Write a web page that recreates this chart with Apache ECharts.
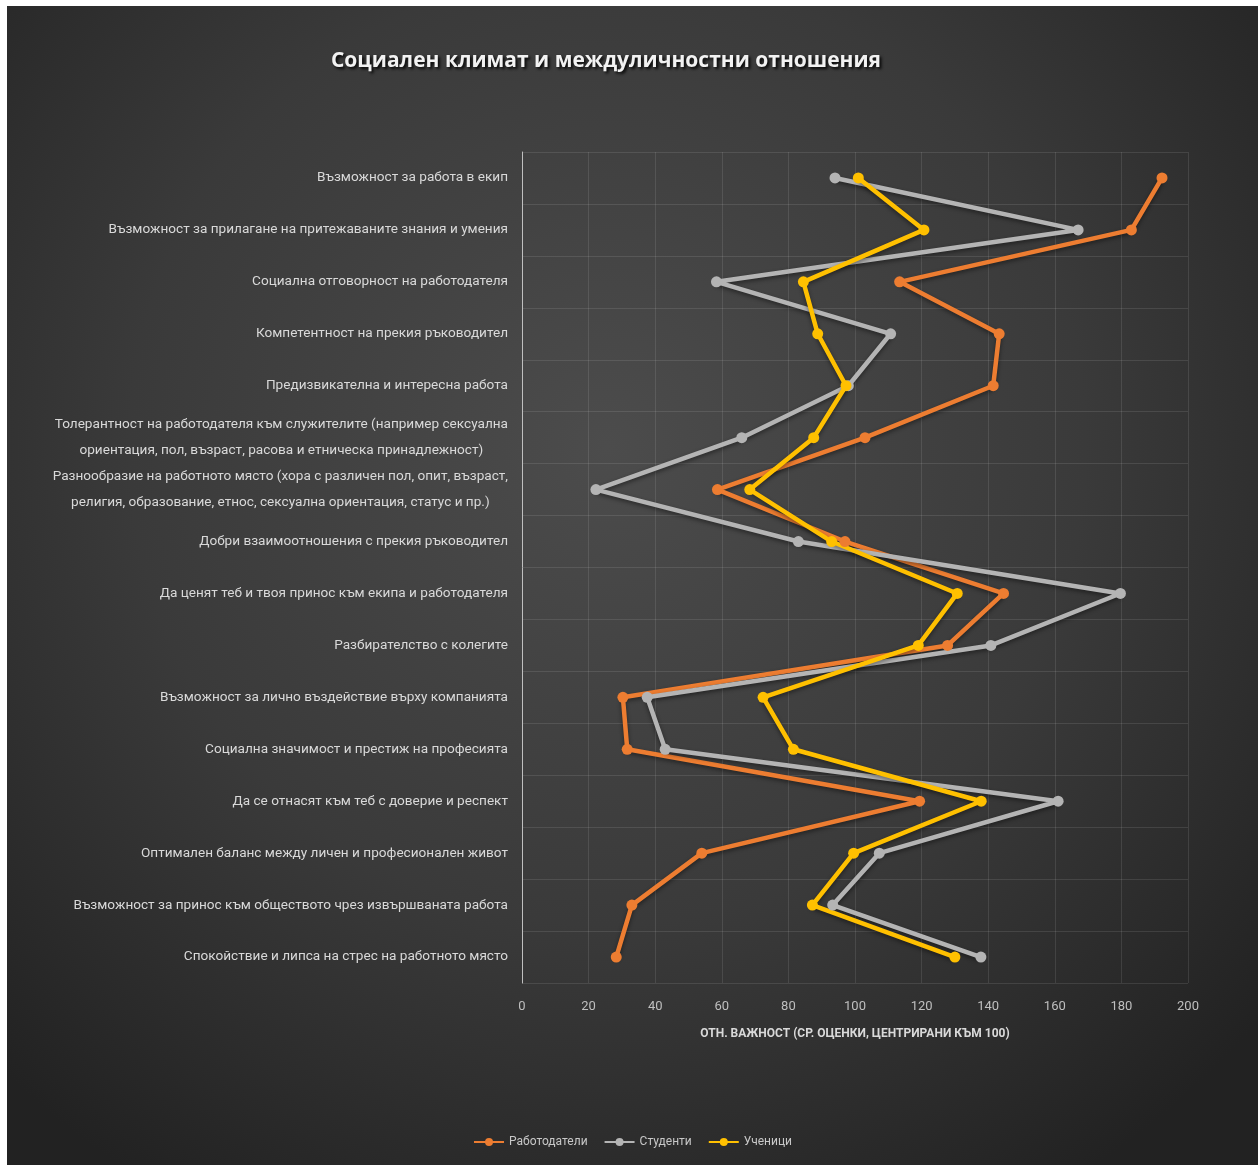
<!DOCTYPE html>
<html>
<head>
<meta charset="utf-8">
<script src="https://cdn.jsdelivr.net/npm/echarts@6/dist/echarts.min.js"></script>
<style>
html,body{margin:0;padding:0;background:#ffffff;width:1258px;height:1165px;overflow:hidden;}
#chart{position:absolute;left:7px;top:6px;width:1251px;height:1159px;}
</style>
</head>
<body>
<div id="chart"></div>
<script>
const categories = [
  'Възможност за работа в екип',
  'Възможност за прилагане на притежаваните знания и умения',
  'Социална отговорност на работодателя',
  'Компетентност на прекия ръководител',
  'Предизвикателна и интересна работа',
  'Толерантност на работодателя към служителите (например сексуална\nориентация, пол, възраст, расова и етническа принадлежност)',
  'Разнообразие на работното място (хора с различен пол, опит, възраст,\nрелигия, образование, етнос, сексуална ориентация, статус и пр.)',
  'Добри взаимоотношения с прекия ръководител',
  'Да ценят теб и твоя принос към екипа и работодателя',
  'Разбирателство с колегите',
  'Възможност за лично въздействие върху компанията',
  'Социална значимост и престиж на професията',
  'Да се отнасят към теб с доверие и респект',
  'Оптимален баланс между личен и професионален живот',
  'Възможност за принос към обществото чрез извършваната работа',
  'Спокойствие и липса на стрес на работното място'
];
const employers = [192.2, 183, 113.4, 143.3, 141.5, 103, 58.7, 97, 144.6, 127.8, 30.3, 31.6, 119.4, 54, 33, 28.3];
const students  = [94, 167, 58.4, 110.7, 98, 66, 22.2, 83, 179.7, 140.8, 37.6, 43, 161, 107.3, 93.3, 137.8];
const pupils    = [101, 120.7, 84.5, 88.8, 97.3, 87.6, 68.4, 93, 130.7, 119, 72.4, 81.5, 137.9, 99.6, 87.2, 130];
const seriesNames = ['Работодатели', 'Студенти', 'Ученици'];
const xTicks = {min: 0, max: 200, interval: 20};
const titleText = 'Социален климат и междуличностни отношения';
const xAxisName = 'ОТН. ВАЖНОСТ (СР. ОЦЕНКИ, ЦЕНТРИРАНИ КЪМ 100)';

const colors = ['#ed7d31', '#b4b4b4', '#ffc000'];
const labelFont = '"Liberation Sans Narrow", "Roboto", sans-serif';

const chart = echarts.init(document.getElementById('chart'), null, {renderer: 'canvas'});

function mkSeries(name, data, color) {
  return {
    name: name,
    type: 'line',
    data: data,
    symbol: 'circle',
    symbolSize: 11,
    lineStyle: {width: 4.5, color: color, shadowColor: 'rgba(0,0,0,0.45)', shadowBlur: 4, shadowOffsetY: 2},
    itemStyle: {color: color},
    emphasis: {disabled: true},
    animation: false
  };
}

chart.setOption({
  backgroundColor: {
    type: 'radial', x: 0.48, y: 0.38, r: 0.75,
    colorStops: [
      {offset: 0, color: '#4c4c4c'},
      {offset: 0.55, color: '#3a3a3a'},
      {offset: 1, color: '#222222'}
    ]
  },
  title: {
    text: titleText,
    left: 594,
    top: 40,
    textAlign: 'center',
    textStyle: {
      color: '#f2f2f2',
      fontFamily: '"Open Sans", sans-serif',
      fontWeight: 'bold',
      fontSize: 21,
      textShadowColor: 'rgba(0,0,0,0.9)',
      textShadowBlur: 3,
      textShadowOffsetX: 2,
      textShadowOffsetY: 2
    }
  },
  legend: {
    data: seriesNames,
    bottom: 12,
    left: 'center',
    itemWidth: 30,
    itemHeight: 10,
    itemGap: 16,
    textStyle: {color: '#c8c8c8', fontSize: 12, fontFamily: labelFont}
  },
  grid: {left: 515, right: 70, top: 146, bottom: 182, containLabel: false},
  xAxis: {
    type: 'value',
    min: xTicks.min, max: xTicks.max, interval: xTicks.interval,
    axisLine: {show: false},
    axisTick: {show: false},
    splitLine: {show: true, lineStyle: {color: 'rgba(255,255,255,0.1)', width: 1}},
    axisLabel: {color: '#bfbfbf', fontSize: 13, fontFamily: labelFont, margin: 17},
    name: xAxisName,
    nameLocation: 'middle',
    nameGap: 45,
    nameTextStyle: {color: '#d9d9d9', fontSize: 12, fontWeight: 'bold', fontFamily: labelFont}
  },
  yAxis: {
    type: 'category',
    data: categories,
    inverse: true,
    boundaryGap: true,
    axisLine: {show: true, lineStyle: {color: '#bfbfbf', width: 1}},
    axisTick: {show: false},
    splitLine: {show: true, lineStyle: {color: 'rgba(255,255,255,0.1)', width: 1}},
    axisLabel: {
      color: '#d9d9d9',
      fontSize: 13.6,
      fontFamily: labelFont,
      margin: 14,
      interval: 0,
      formatter: function (v) {
        if (v.indexOf('\n') < 0) return v;
        return v.split('\n').map(function (s) { return '{c|' + s + '}'; }).join('\n');
      },
      rich: {
        c: {align: 'center', color: '#d9d9d9', fontSize: 13.6, fontFamily: labelFont, lineHeight: 26}
      }
    }
  },
  series: [
    mkSeries(seriesNames[0], employers, colors[0]),
    mkSeries(seriesNames[1], students, colors[1]),
    mkSeries(seriesNames[2], pupils, colors[2])
  ]
});
</script>
</body>
</html>
